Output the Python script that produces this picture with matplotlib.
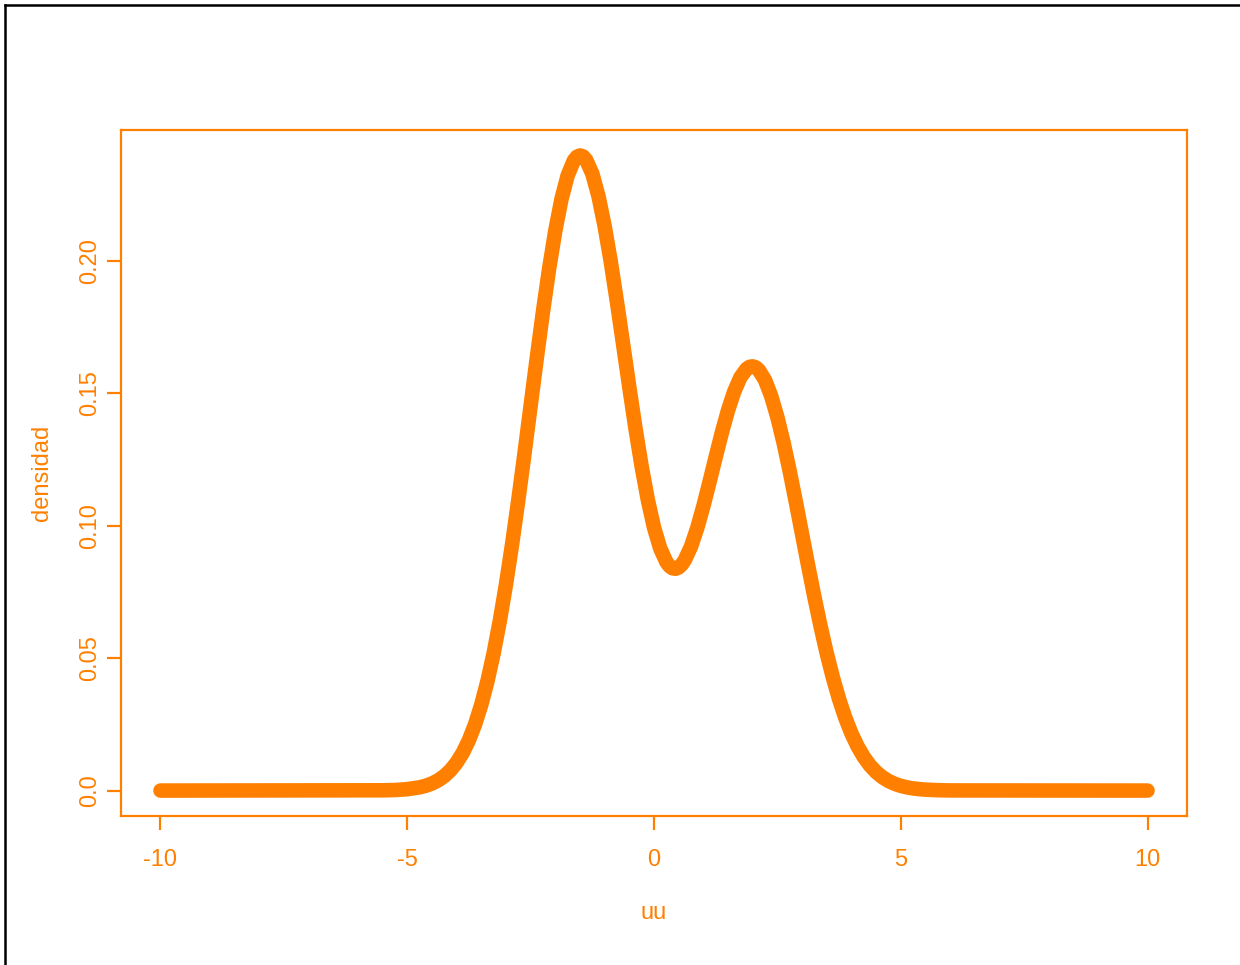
import matplotlib
matplotlib.use("Agg")
import matplotlib.pyplot as plt
from matplotlib.lines import Line2D

plt.rcParams['font.family'] = ['Liberation Sans', 'DejaVu Sans']

ORANGE = '#FF8000'

# Values
uu = [-10.0, -5.5, -5.25, -5.0, -4.75, -4.625, -4.5, -4.375, -4.25, -4.125,
      -4.0, -3.875, -3.75, -3.625, -3.5, -3.375, -3.25, -3.125, -3.0, -2.875,
      -2.75, -2.625, -2.5, -2.375, -2.25, -2.125, -2.0, -1.875, -1.75, -1.625,
      -1.5625, -1.5, -1.4375, -1.375, -1.25, -1.125, -1.0, -0.875, -0.75,
      -0.625, -0.5, -0.375, -0.25, -0.125, 0.0, 0.125, 0.25, 0.3125, 0.375,
      0.4375, 0.5, 0.5625, 0.625, 0.75, 0.875,
      1.0, 1.125, 1.25, 1.375, 1.5, 1.625, 1.75, 1.875, 1.9375, 2.0, 2.0625,
      2.125, 2.25, 2.375, 2.5, 2.625, 2.75, 2.875, 3.0, 3.125, 3.25, 3.375,
      3.5, 3.625, 3.75, 3.875, 4.0, 4.125, 4.25, 4.375, 4.5, 4.625,
      4.75, 4.875, 5.0, 5.125, 5.25, 5.375, 5.5, 5.75, 6.0, 10.0]
densidad = [0.0, 0.0001, 0.0002, 0.00052, 0.00122, 0.00181, 0.00266, 0.00384,
            0.00545, 0.00763, 0.01052, 0.01426, 0.01904, 0.02503, 0.0324,
            0.04127, 0.05177, 0.06392, 0.07771, 0.09301, 0.10959, 0.12712,
            0.1452, 0.16324, 0.1807, 0.19693, 0.2113, 0.2232, 0.2321, 0.23773,
            0.23918, 0.2397, 0.23933, 0.23804, 0.2328, 0.22432, 0.2130,
            0.19946, 0.1843, 0.16832, 0.1522, 0.13663, 0.1223, 0.1097, 0.0993,
            0.09144, 0.0863, 0.08473, 0.08389, 0.08372, 0.0842, 0.08532,
            0.08704, 0.0921, 0.09901, 0.1073, 0.11646, 0.1259, 0.1351,
            0.1435, 0.15056, 0.1559, 0.15914, 0.15992, 0.1601, 0.15969,
            0.15867, 0.1549, 0.14887,
            0.1409, 0.13131, 0.1205, 0.10883, 0.09679, 0.08475, 0.07306,
            0.06201, 0.05181, 0.04262, 0.03451, 0.02752, 0.0216, 0.01669,
            0.0127, 0.00951, 0.00701, 0.00509, 0.00364, 0.00256, 0.00177,
            0.00121, 0.00081, 0.00054, 0.00035, 0.00014, 0.00005, 0.0]

xticks = [-10, -5, 0, 5, 10]
xticklabels = ['-10', '-5', '0', '5', '10']
yticks = [0.0, 0.05, 0.10, 0.15, 0.20]
yticklabels = ['0.0', '0.05', '0.10', '0.15', '0.20']

fig = plt.figure(figsize=(12.4, 9.65), dpi=100)
ax = fig.add_axes([121/1240, 1-816/965, (1187-121)/1240, (816-130)/965])

ax.plot(uu, densidad, color=ORANGE, lw=10.5, solid_capstyle='round',
        solid_joinstyle='round')

ax.set_xlim(-10.8, 10.8)
ax.set_ylim(-0.0096, 0.2493)

ax.set_xticks(xticks)
ax.set_xticklabels(xticklabels)
ax.set_yticks(yticks)
ax.set_yticklabels(yticklabels, rotation=90, va='center')

for s in ax.spines.values():
    s.set_color(ORANGE)
    s.set_linewidth(1.6)

ax.tick_params(axis='both', colors=ORANGE, length=10, width=1.6, labelsize=17)
ax.tick_params(axis='x', pad=14)
ax.tick_params(axis='y', pad=4)

ax.set_xlabel('uu', color=ORANGE, fontsize=17, labelpad=22)
ax.set_ylabel('densidad', color=ORANGE, fontsize=17, labelpad=19)

# figure border (top and left visible)
fig.add_artist(Line2D([5/1240, 5/1240], [0, 1-5/965], transform=fig.transFigure,
                      color='black', lw=1.8))
fig.add_artist(Line2D([5/1240, 1], [1-5/965, 1-5/965], transform=fig.transFigure,
                      color='black', lw=1.8))

fig.savefig('out.png', dpi=100)
